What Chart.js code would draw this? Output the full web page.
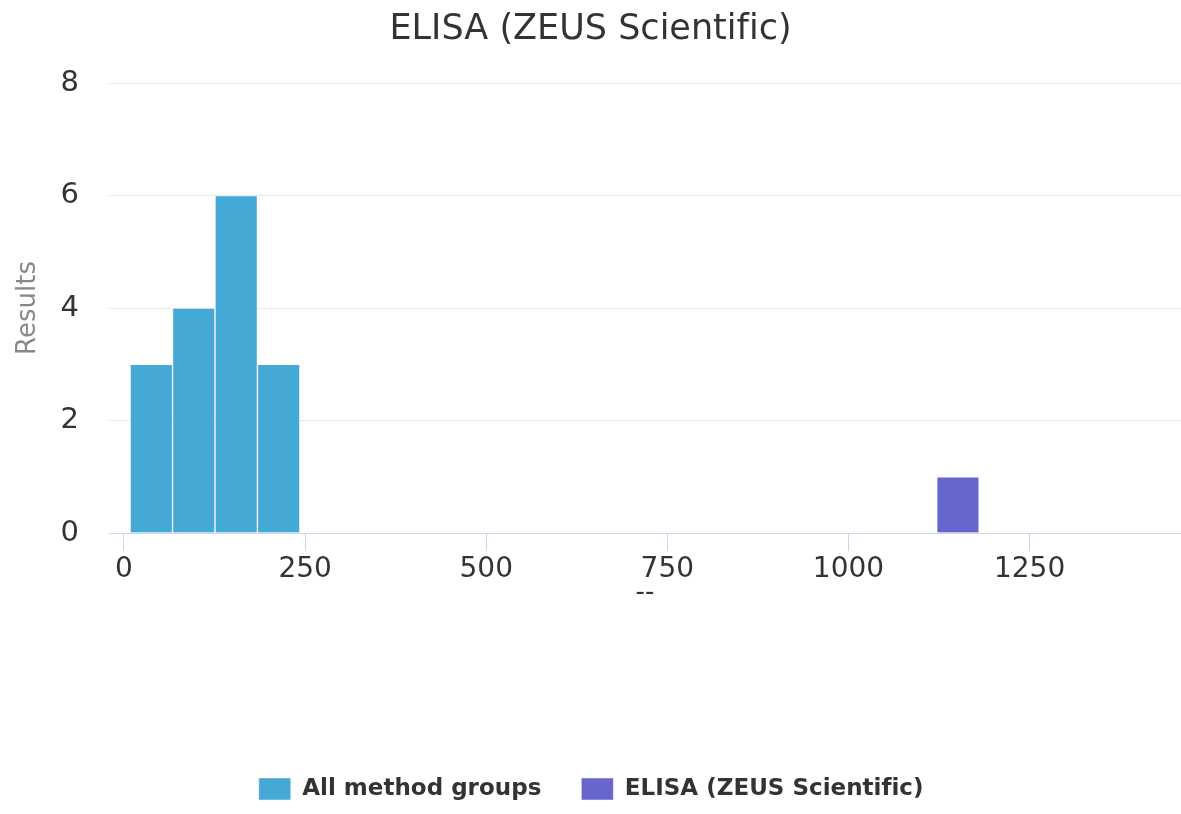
<!DOCTYPE html>
<html>
<head>
<meta charset="utf-8">
<title>ELISA (ZEUS Scientific)</title>
<script src="https://cdn.jsdelivr.net/npm/chart.js@4/dist/chart.umd.min.js"></script>
<style>
    html, body { margin: 0; padding: 0; background: #ffffff; }
    #wrap { width: 1181px; height: 814px; position: relative; }
</style>
</head>
<body>
<div id="wrap"><canvas id="histogram"></canvas></div>
<script>
// Data
const binWidth = 58.6;
const allGroupsBinStarts = [8.4, 67.0, 125.6, 184.2];
const allGroupsCounts = [3, 4, 6, 3];
const methodBinStarts = [1121.8];
const methodCounts = [1];
const xTickValues = [0, 250, 500, 750, 1000, 1250];
const xMin = -20.7;
const xMax = 1459;

// Colors
const blue = '#45a9d6';
const purple = '#6666cc';
const textColor = '#333333';
const axisColor = '#ccd6eb';

function toPoints(starts, counts) {
    return starts.map((s, i) => ({ x: s + binWidth / 2, y: counts[i] }));
}

// no fi ligature, like the original
const noLigatures = {
    id: 'noLigatures',
    beforeDraw(chart) {
        chart.ctx.letterSpacing = '0.01px';
    }
};

const ctx = document.getElementById('histogram').getContext('2d');

new Chart(ctx, {
    type: 'bar',
    data: {
        datasets: [{
            label: 'All method groups',
            data: toPoints(allGroupsBinStarts, allGroupsCounts),
            backgroundColor: blue,
            borderColor: 'rgba(255, 255, 255, 0.45)',
            borderWidth: 1,
            grouped: false,
            barPercentage: 1,
            categoryPercentage: 1
        }, {
            label: 'ELISA (ZEUS Scientific)',
            data: toPoints(methodBinStarts, methodCounts),
            backgroundColor: purple,
            borderColor: 'rgba(255, 255, 255, 0.45)',
            borderWidth: 1,
            grouped: false,
            barPercentage: 1,
            categoryPercentage: 1
        }]
    },
    options: {
        responsive: true,
        maintainAspectRatio: false,
        animation: false,
        layout: { padding: { left: 0, right: 0, top: 0, bottom: 3.5 } },
        scales: {
            x: {
                type: 'linear',
                min: xMin,
                max: xMax,
                offset: false,
                afterBuildTicks: scale => {
                    scale.ticks = xTickValues.map(v => ({ value: v }));
                },
                afterFit: scale => { scale.height = 204.5; },
                grid: {
                    display: true,
                    offset: false,
                    drawOnChartArea: false,
                    drawTicks: true,
                    tickLength: 18,
                    color: axisColor
                },
                border: { display: true, color: axisColor, width: 1 },
                ticks: {
                    color: textColor,
                    padding: 2,
                    maxRotation: 0,
                    font: { family: 'DejaVu Sans', size: 28 },
                    callback: value => String(value)
                },
                title: {
                    display: true,
                    text: '--',
                    color: textColor,
                    font: { family: 'DejaVu Sans', size: 26 },
                    padding: { top: 0, bottom: 129 }
                }
            },
            y: {
                min: 0,
                max: 8,
                afterFit: scale => { scale.width = 109; },
                grid: {
                    color: '#e6e6e6',
                    drawTicks: false
                },
                border: { display: false },
                ticks: {
                    stepSize: 2,
                    color: textColor,
                    padding: 30,
                    font: { family: 'DejaVu Sans', size: 29 }
                },
                title: {
                    display: true,
                    text: 'Results',
                    color: '#888888',
                    font: { family: 'DejaVu Sans', size: 26 },
                    padding: { top: 12.4, bottom: 0 }
                }
            }
        },
        plugins: {
            title: {
                display: true,
                text: 'ELISA (ZEUS Scientific)',
                color: textColor,
                font: { family: 'DejaVu Sans', size: 35, weight: 'normal' },
                padding: { top: 9, bottom: 32 }
            },
            legend: {
                position: 'bottom',
                labels: {
                    color: textColor,
                    boxWidth: 32,
                    boxHeight: 22,
                    padding: 40,
                    font: { family: 'DejaVu Sans', size: 23, weight: 'bold' }
                }
            },
            tooltip: { enabled: false }
        }
    },
    plugins: [noLigatures]
});
</script>
</body>
</html>
